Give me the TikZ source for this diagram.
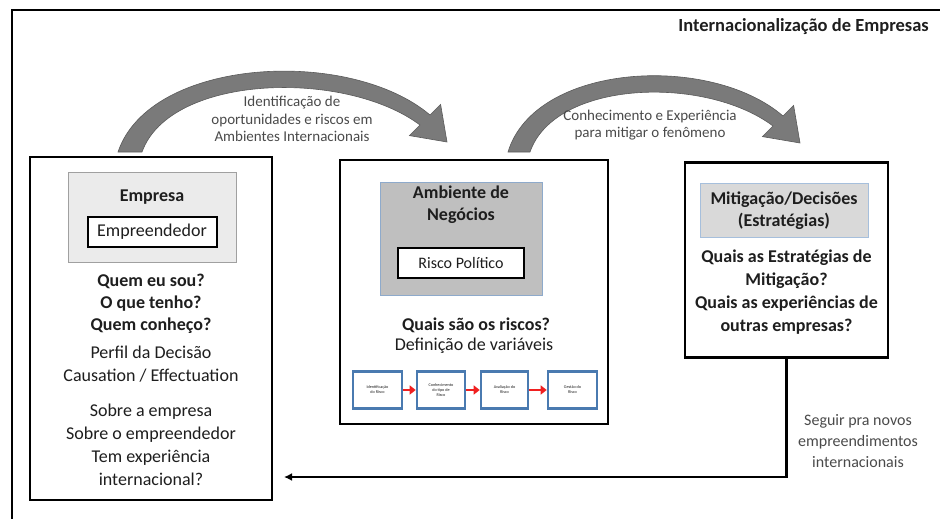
\documentclass[tikz,border=0pt]{standalone}
\usepackage{fontspec}
\setmainfont{Carlito}
\usetikzlibrary{arrows.meta}
\definecolor{txt}{HTML}{1E1E1E}
\definecolor{arctxt}{HTML}{4A4A4A}
\definecolor{arcfill}{HTML}{7A7A7A}
\definecolor{arcedge}{HTML}{5A5A5A}
\definecolor{boxA}{HTML}{EBEBEB}
\definecolor{boxAedge}{HTML}{A0A0A0}
\definecolor{boxB}{HTML}{BFBFBF}
\definecolor{boxBedge}{HTML}{8EAACB}
\definecolor{boxC}{HTML}{D9D9D9}
\definecolor{boxCedge}{HTML}{A6BFDC}
\definecolor{stepblue}{HTML}{4A7AB0}
\definecolor{stepred}{HTML}{F02020}
\begin{document}
\begin{tikzpicture}[x=1pt,y=-1pt,
  panel/.style={draw=black, line width=2.6pt, fill=white, inner sep=0pt},
  graybox/.style={inner sep=0pt, line width=1pt},
  whitebox/.style={draw=black, line width=2pt, fill=white, inner sep=0pt, text=txt,
    font=\fontsize{18}{20}\selectfont},
  bigbold/.style={align=center, text=txt, font=\bfseries\fontsize{18}{22}\selectfont, inner sep=0pt},
  bigreg/.style={align=center, text=txt, font=\fontsize{18}{23}\selectfont, inner sep=0pt},
  arclabel/.style={align=center, text=arctxt, font=\fontsize{15}{17.5}\selectfont, inner sep=0pt},
  stepbox/.style={draw=stepblue, line width=2.6pt, fill=white, inner sep=0pt,
    minimum height=37pt, align=center, text=txt, font=\fontsize{4.2}{5}\selectfont},
  steparrow/.style={draw=stepred, line width=2.6pt, -{Triangle[length=6pt,width=9pt]}},
  flow/.style={draw=black, line width=2.4pt, -{Latex[length=8pt,width=8pt]}}
]
\useasboundingbox (0,0) rectangle (940,519);

% outer frame (top and left)
\draw[line width=2.6pt] (12,519) -- (12,10) -- (940,10);
\node[anchor=east, text=txt, font=\bfseries\fontsize{18.5}{20}\selectfont, inner sep=0pt] (title) at (929,27) {Internacionalização de Empresas};

% curved arrows
\fill[arcfill, draw=arcedge, line width=0.6pt]
  (118,152) .. controls (150,57) and (350,47) .. (430,115)
  -- (440.6,104.4) -- (447,142) -- (409.4,135.6) -- (420,125)
  .. controls (345,69) and (170,74) .. (142,152) -- cycle;
\node[arclabel] (arc1txt) at (292,119) {Identificação de\\oportunidades e riscos em\\Ambientes Internacionais};

\fill[arcfill, draw=arcedge, line width=0.6pt]
  (508,152) .. controls (535,63) and (710,53) .. (783,116)
  -- (793.6,105.4) -- (800,143) -- (762.4,136.6) -- (773,126)
  .. controls (705,75) and (555,80) .. (530,152) -- cycle;
\node[arclabel] (arc2txt) at (650,125) {Conhecimento e Experiência\\para mitigar o fenômeno};

% left panel
\node[panel, minimum width=242pt, minimum height=343pt] (left) at (151,328.5) {};
\node[graybox, draw=boxAedge, fill=boxA, minimum width=168pt, minimum height=90pt] (empresa) at (152,217) {};
\node[bigbold] (empresatxt) at (152,197) {Empresa};
\node[whitebox, minimum width=129pt, minimum height=30pt] (empreend) at (152,232) {Empreendedor};
\node[bigbold] (quem) at (151,304) {Quem eu sou?\\O que tenho?\\Quem conheço?};
\node[bigreg] (perfil) at (151,364.5) {Perfil da Decisão\\Causation / Effectuation};
\node[bigreg] (sobre) at (151,444.5) {Sobre a empresa\\Sobre o empreendedor\\Tem experiência\\internacional?};

% middle panel
\node[panel, minimum width=268pt, minimum height=264pt] (mid) at (474,292) {};
\node[graybox, draw=boxBedge, fill=boxB, minimum width=162pt, minimum height=113pt] (ambiente) at (461,238.5) {};
\node[bigbold] (ambtxt) at (461,205) {Ambiente de\\Negócios};
\node[whitebox, font=\fontsize{16}{18}\selectfont, minimum width=126pt, minimum height=30pt] (risco) at (461,263) {Risco Político};
\node[bigbold] (quais) at (476,325) {Quais são os riscos?};
\node[bigreg] (defin) at (474,346) {Definição de variáveis};

\node[stepbox, minimum width=49pt] (s1) at (377.5,390) {Identificação\\do Risco};
\node[stepbox, minimum width=48pt] (s2) at (441,390) {Conhecimento\\do tipo de\\Risco};
\node[stepbox, minimum width=47pt] (s3) at (504.5,390) {Avaliação do\\Risco};
\node[stepbox, minimum width=49pt] (s4) at (572.5,390) {Gestão do\\Risco};
\draw[steparrow] (s1) -- (s2);
\draw[steparrow] (s2) -- (s3);
\draw[steparrow] (s3) -- (s4);

% right panel
\node[panel, minimum width=203pt, minimum height=195pt] (right) at (786.5,260) {};
\node[graybox, draw=boxCedge, fill=boxC, minimum width=168pt, minimum height=54pt] (mitig) at (784,210) {};
\node[bigbold] (mitigtxt) at (784,211) {Mitigação/Decisões\\(Estratégias)};
\node[bigbold, font=\bfseries\fontsize{18}{23}\selectfont] (estrat) at (786.5,292) {Quais as Estratégias de\\Mitigação?\\Quais as experiências de\\outras empresas?};

% return connector
\coordinate (retend) at (284,477);
\draw[flow] (right.south) |- (retend);
\node[arclabel, font=\fontsize{16}{21}\selectfont] (seguir) at (858,441) {Seguir pra novos\\empreendimentos\\internacionais};
\end{tikzpicture}
\end{document}
